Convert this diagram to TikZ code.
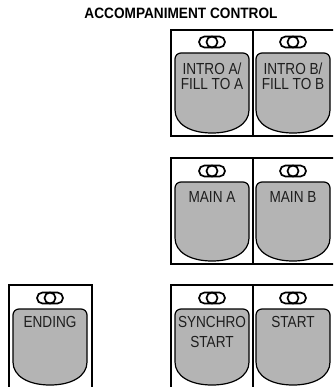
\documentclass[tikz,border=0pt]{standalone}
\usepackage{fontspec}
\setmainfont{Liberation Sans}
\newfontfamily\keyfont[FakeStretch=0.85]{Liberation Sans}
\newfontfamily\titlefont[FakeStretch=0.91]{Liberation Sans}
\definecolor{keygray}{RGB}{180,180,180}
\definecolor{keytext}{RGB}{30,30,30}
\tikzset{
  panelst/.style={draw=black,line width=1.3pt,fill=white},
  keyst/.style={draw=black,line width=1.2pt,fill=keygray},
  lampst/.style={draw=black,line width=1.7pt},
  keylabel/.style={inner sep=0pt,anchor=north,align=center,text=keytext,
    font=\keyfont\fontsize{16}{15}\selectfont},
  titlest/.style={inner sep=0pt,font=\titlefont\bfseries\fontsize{15}{15}\selectfont}
}
% #1 left x, #2 top y, #3 bottom y
\newcommand\drawkeyshape[3]{%
  \pgfmathsetmacro\kr{#1+74}%
  \pgfmathsetmacro\km{#1+37}%
  \pgfmathsetmacro\ks{#3-23}%
  \draw[keyst] (#1,\ks) -- (#1,#2+6)
     .. controls (#1,#2+2.7) and (#1+2.7,#2) .. (#1+6,#2)
     -- (\kr-6,#2)
     .. controls (\kr-2.7,#2) and (\kr,#2+2.7) .. (\kr,#2+6)
     -- (\kr,\ks)
     .. controls (\kr,#3-9) and (\kr-15,#3) .. (\km,#3)
     .. controls (#1+15,#3) and (#1,#3-9) .. cycle;
  \draw[lampst,rounded corners=5.5pt] (\km-13,#2-16.5) rectangle (\km+13,#2-5.5);
  \draw[lampst] (\km,#2-11) circle[radius=5.5];
}
\begin{document}
\begin{tikzpicture}[x=1pt,y=-1pt]
\useasboundingbox (0,0) rectangle (333,387);
\clip (0,0) rectangle (333,387);
\fill[white] (0,0) rectangle (333,387);

\node[titlest] (title) at (181,13) {ACCOMPANIMENT CONTROL};

% panels
\draw[panelst] (171,30) rectangle (345,136);
\draw[line width=1.3pt] (253,30) -- (253,136);
\draw[panelst] (171,158) rectangle (345,264);
\draw[line width=1.3pt] (253,158) -- (253,264);
\draw[panelst] (171,285) rectangle (345,400);
\draw[line width=1.3pt] (253,285) -- (253,400);
\draw[panelst] (9,285) rectangle (92,400);

% keys
\drawkeyshape{175}{53}{133}
\drawkeyshape{256}{53}{133}
\drawkeyshape{175}{182}{261}
\drawkeyshape{256}{182}{261}
\drawkeyshape{13}{309}{385}
\drawkeyshape{175}{309}{385}
\drawkeyshape{256}{309}{385}

% labels
\node[keylabel] (introA) at (212,63) {INTRO A/\\FILL TO A};
\node[keylabel] (introB) at (293,63) {INTRO B/\\FILL TO B};
\node[keylabel] (mainA) at (212,191) {MAIN A};
\node[keylabel] (mainB) at (293,191) {MAIN B};
\node[keylabel] (ending) at (50,316) {ENDING};
\node[keylabel,font=\keyfont\fontsize{16}{20}\selectfont] (synchro) at (212,316) {SYNCHRO\\START};
\node[keylabel] (start) at (293,316) {START};
\end{tikzpicture}
\end{document}
